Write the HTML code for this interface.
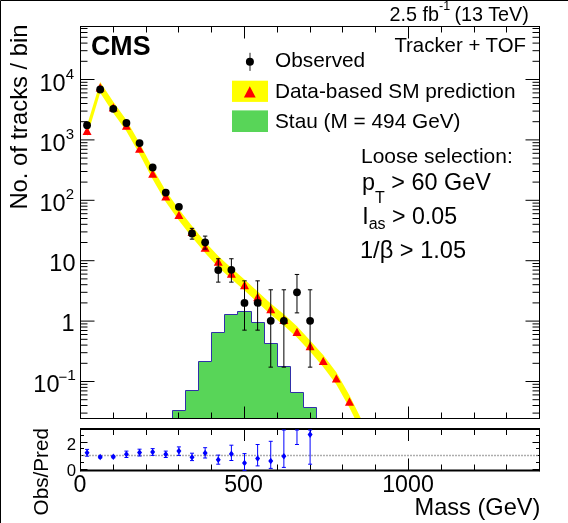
<!DOCTYPE html>
<html><head><meta charset="utf-8"><style>
html,body{margin:0;padding:0;background:#fff;}
svg{display:block;will-change:transform;}
text{font-family:"Liberation Sans", sans-serif;fill:#000;}
</style></head><body>
<svg width="568" height="523" viewBox="0 0 568 523">
<rect x="0" y="0" width="568" height="523" fill="#fff"/>
<path d="M0.5 523 V0.5 H568" fill="none" stroke="#000" stroke-width="1"/>
<path d="M172.5 418.5 L172.5 410.5 L185.5 410.5 L185.5 390.5 L198.5 390.5 L198.5 361.5 L211.5 361.5 L211.5 332.5 L224.5 332.5 L224.5 314.5 L237.5 314.5 L237.5 311.5 L251.5 311.5 L251.5 322.5 L264.5 322.5 L264.5 343.5 L277.5 343.5 L277.5 366.5 L290.5 366.5 L290.5 392.5 L303.5 392.5 L303.5 407.5 L316.5 407.5 L316.5 418.5 Z" fill="#58d558" stroke="#3030a8" stroke-width="1"/>
<clipPath id="mainclip"><rect x="80" y="26" width="460" height="392"/></clipPath>
<g clip-path="url(#mainclip)">
<path d="M87.06 125.20 L100.18 82.10 L113.30 101.80 L126.42 120.00 L139.54 143.00 L152.66 168.00 L165.78 190.70 L178.90 209.30 L192.02 226.10 L205.14 241.90 L218.26 256.00 L231.38 267.90 L244.50 279.40 L257.62 291.40 L270.74 303.40 L283.86 314.20 L296.98 326.30 L310.10 340.40 L323.22 354.90 L336.34 372.20 L349.46 395.20 L362.58 421.70 L362.58 434.30 L349.46 407.80 L336.34 384.60 L323.22 366.90 L310.10 351.60 L296.98 337.50 L283.86 325.40 L270.74 314.60 L257.62 302.60 L244.50 290.60 L231.38 279.10 L218.26 267.20 L205.14 253.10 L192.02 237.30 L178.90 220.50 L165.78 201.90 L152.66 179.20 L139.54 154.20 L126.42 131.20 L113.30 113.00 L100.18 92.70 L87.06 136.40 Z" fill="#ffff00"/>
<path d="M82.56 135.00 L91.56 135.00 L87.06 126.60 Z M95.68 91.60 L104.68 91.60 L100.18 83.20 Z M108.80 111.60 L117.80 111.60 L113.30 103.20 Z M121.92 129.80 L130.92 129.80 L126.42 121.40 Z M135.04 152.80 L144.04 152.80 L139.54 144.40 Z M148.16 177.80 L157.16 177.80 L152.66 169.40 Z M161.28 200.50 L170.28 200.50 L165.78 192.10 Z M174.40 219.10 L183.40 219.10 L178.90 210.70 Z M187.52 235.90 L196.52 235.90 L192.02 227.50 Z M200.64 251.70 L209.64 251.70 L205.14 243.30 Z M213.76 265.80 L222.76 265.80 L218.26 257.40 Z M226.88 277.70 L235.88 277.70 L231.38 269.30 Z M240.00 289.20 L249.00 289.20 L244.50 280.80 Z M253.12 301.20 L262.12 301.20 L257.62 292.80 Z M266.24 313.20 L275.24 313.20 L270.74 304.80 Z M279.36 324.00 L288.36 324.00 L283.86 315.60 Z M292.48 336.10 L301.48 336.10 L296.98 327.70 Z M305.60 350.20 L314.60 350.20 L310.10 341.80 Z M318.72 365.10 L327.72 365.10 L323.22 356.70 Z M331.84 382.60 L340.84 382.60 L336.34 374.20 Z M344.96 405.70 L353.96 405.70 L349.46 397.30 Z M358.08 432.20 L367.08 432.20 L362.58 423.80 Z" fill="#ff0000"/>
<path d="M192.02 228.33 V239.15 M189.82 228.33 h4.4 M189.82 239.15 h4.4 M205.14 236.10 V249.09 M202.94 236.10 h4.4 M202.94 249.09 h4.4 M218.26 258.75 V282.13 M216.06 258.75 h4.4 M216.06 282.13 h4.4 M231.38 258.75 V282.13 M229.18 258.75 h4.4 M229.18 282.13 h4.4 M244.50 280.85 V330.15 M242.30 280.85 h4.4 M242.30 330.15 h4.4 M257.62 280.85 V330.15 M255.42 280.85 h4.4 M255.42 330.15 h4.4 M270.74 289.79 V367.15 M268.54 289.79 h4.4 M268.54 367.15 h4.4 M283.86 289.79 V367.15 M281.66 289.79 h4.4 M281.66 367.15 h4.4 M296.98 274.46 V312.89 M294.78 274.46 h4.4 M294.78 312.89 h4.4 M310.10 289.79 V367.15 M307.90 289.79 h4.4 M307.90 367.15 h4.4" stroke="#000" stroke-width="1" fill="none"/>
<circle cx="87.06" cy="125.20" r="3.9" fill="#000"/>
<circle cx="100.18" cy="89.50" r="3.9" fill="#000"/>
<circle cx="113.30" cy="108.80" r="3.9" fill="#000"/>
<circle cx="126.42" cy="123.00" r="3.9" fill="#000"/>
<circle cx="139.54" cy="143.10" r="3.9" fill="#000"/>
<circle cx="152.66" cy="167.50" r="3.9" fill="#000"/>
<circle cx="165.78" cy="192.60" r="3.9" fill="#000"/>
<circle cx="178.90" cy="206.80" r="3.9" fill="#000"/>
<circle cx="192.02" cy="233.40" r="3.9" fill="#000"/>
<circle cx="205.14" cy="242.30" r="3.9" fill="#000"/>
<circle cx="218.26" cy="270.10" r="3.9" fill="#000"/>
<circle cx="231.38" cy="269.80" r="3.9" fill="#000"/>
<circle cx="244.50" cy="302.90" r="3.9" fill="#000"/>
<circle cx="257.62" cy="302.90" r="3.9" fill="#000"/>
<circle cx="270.74" cy="320.80" r="3.9" fill="#000"/>
<circle cx="283.86" cy="320.80" r="3.9" fill="#000"/>
<circle cx="296.98" cy="292.30" r="3.9" fill="#000"/>
<circle cx="310.10" cy="320.80" r="3.9" fill="#000"/>
</g>
<path d="M80.5 418.5 v-12 M80.5 26.5 v12 M113.5 418.5 v-6 M113.5 26.5 v6 M146.5 418.5 v-6 M146.5 26.5 v6 M178.5 418.5 v-6 M178.5 26.5 v6 M211.5 418.5 v-6 M211.5 26.5 v6 M244.5 418.5 v-12 M244.5 26.5 v12 M277.5 418.5 v-6 M277.5 26.5 v6 M310.5 418.5 v-6 M310.5 26.5 v6 M342.5 418.5 v-6 M342.5 26.5 v6 M375.5 418.5 v-6 M375.5 26.5 v6 M408.5 418.5 v-12 M408.5 26.5 v12 M441.5 418.5 v-6 M441.5 26.5 v6 M474.5 418.5 v-6 M474.5 26.5 v6 M506.5 418.5 v-6 M506.5 26.5 v6 M539.5 418.5 v-6 M539.5 26.5 v6 M80.5 413.1 h7 M539.5 413.1 h-7 M80.5 405.5 h7 M539.5 405.5 h-7 M80.5 399.7 h7 M539.5 399.7 h-7 M80.5 394.9 h7 M539.5 394.9 h-7 M80.5 390.9 h7 M539.5 390.9 h-7 M80.5 387.4 h7 M539.5 387.4 h-7 M80.5 384.3 h7 M539.5 384.3 h-7 M80.5 381.5 h14 M539.5 381.5 h-14 M80.5 363.3 h7 M539.5 363.3 h-7 M80.5 352.7 h7 M539.5 352.7 h-7 M80.5 345.1 h7 M539.5 345.1 h-7 M80.5 339.3 h7 M539.5 339.3 h-7 M80.5 334.5 h7 M539.5 334.5 h-7 M80.5 330.5 h7 M539.5 330.5 h-7 M80.5 327.0 h7 M539.5 327.0 h-7 M80.5 323.9 h7 M539.5 323.9 h-7 M80.5 321.1 h14 M539.5 321.1 h-14 M80.5 302.9 h7 M539.5 302.9 h-7 M80.5 292.3 h7 M539.5 292.3 h-7 M80.5 284.7 h7 M539.5 284.7 h-7 M80.5 278.9 h7 M539.5 278.9 h-7 M80.5 274.1 h7 M539.5 274.1 h-7 M80.5 270.1 h7 M539.5 270.1 h-7 M80.5 266.6 h7 M539.5 266.6 h-7 M80.5 263.5 h7 M539.5 263.5 h-7 M80.5 260.7 h14 M539.5 260.7 h-14 M80.5 242.5 h7 M539.5 242.5 h-7 M80.5 231.9 h7 M539.5 231.9 h-7 M80.5 224.3 h7 M539.5 224.3 h-7 M80.5 218.5 h7 M539.5 218.5 h-7 M80.5 213.7 h7 M539.5 213.7 h-7 M80.5 209.7 h7 M539.5 209.7 h-7 M80.5 206.2 h7 M539.5 206.2 h-7 M80.5 203.1 h7 M539.5 203.1 h-7 M80.5 200.3 h14 M539.5 200.3 h-14 M80.5 182.1 h7 M539.5 182.1 h-7 M80.5 171.5 h7 M539.5 171.5 h-7 M80.5 163.9 h7 M539.5 163.9 h-7 M80.5 158.1 h7 M539.5 158.1 h-7 M80.5 153.3 h7 M539.5 153.3 h-7 M80.5 149.3 h7 M539.5 149.3 h-7 M80.5 145.8 h7 M539.5 145.8 h-7 M80.5 142.7 h7 M539.5 142.7 h-7 M80.5 139.9 h14 M539.5 139.9 h-14 M80.5 121.7 h7 M539.5 121.7 h-7 M80.5 111.1 h7 M539.5 111.1 h-7 M80.5 103.5 h7 M539.5 103.5 h-7 M80.5 97.7 h7 M539.5 97.7 h-7 M80.5 92.9 h7 M539.5 92.9 h-7 M80.5 88.9 h7 M539.5 88.9 h-7 M80.5 85.4 h7 M539.5 85.4 h-7 M80.5 82.3 h7 M539.5 82.3 h-7 M80.5 79.5 h14 M539.5 79.5 h-14 M80.5 61.3 h7 M539.5 61.3 h-7 M80.5 50.7 h7 M539.5 50.7 h-7 M80.5 43.1 h7 M539.5 43.1 h-7 M80.5 37.3 h7 M539.5 37.3 h-7 M80.5 32.5 h7 M539.5 32.5 h-7 M80.5 28.5 h7 M539.5 28.5 h-7" stroke="#000" stroke-width="1" fill="none"/>
<rect x="80.5" y="26.5" width="459.0" height="392.0" fill="none" stroke="#000" stroke-width="1"/>
<path d="M250 52.8 V70.9" stroke="#222" stroke-width="1"/>
<circle cx="249.9" cy="61.7" r="4" fill="#000"/>
<rect x="232" y="80.7" width="36" height="21.2" fill="#ffff00"/>
<path d="M243.9 97.6 L255.7 97.6 L249.8 86.2 Z" fill="#ff0000"/>
<rect x="232" y="110.4" width="36" height="21.6" fill="#58d558"/>
<text x="275" y="67.2" font-size="20.8" text-anchor="start" font-weight="normal" >Observed</text>
<text x="275" y="97.6" font-size="20.8" text-anchor="start" font-weight="normal" >Data-based SM prediction</text>
<text x="275" y="127.5" font-size="20.8" text-anchor="start" font-weight="normal" >Stau (M = 494 GeV)</text>
<text x="91" y="55.2" font-size="26.8" text-anchor="start" font-weight="bold" >CMS</text>
<text x="389.5" y="20.5" font-size="19.8">2.5 fb<tspan dy="-10.5" font-size="12.5">-1</tspan><tspan dy="10.5" dx="-1.2"> (13 TeV)</tspan></text>
<text x="526" y="51.7" font-size="20.4" text-anchor="end" font-weight="normal" >Tracker + TOF</text>
<text x="361" y="163" font-size="21.0" text-anchor="start" font-weight="normal" >Loose selection:</text>
<text x="362" y="190" font-size="23.4">p<tspan dy="13" font-size="16">T</tspan><tspan dy="-13"> &gt; 60 GeV</tspan></text>
<text x="362.2" y="223.8" font-size="23.2">I<tspan dy="5.5" font-size="16">as</tspan><tspan dy="-5.5"> &gt; 0.05</tspan></text>
<text x="360" y="258.2" font-size="23.6" text-anchor="start" font-weight="normal" >1/&#946; &gt; 1.05</text>
<text x="74" y="91" font-size="23.5" text-anchor="end">10<tspan dy="-12" font-size="15">4</tspan></text>
<text x="74" y="150.5" font-size="23.5" text-anchor="end">10<tspan dy="-12" font-size="15">3</tspan></text>
<text x="74" y="210.5" font-size="23.5" text-anchor="end">10<tspan dy="-12" font-size="15">2</tspan></text>
<text x="75.5" y="270.8" font-size="23.5" text-anchor="end" font-weight="normal" >10</text>
<text x="74.5" y="330.5" font-size="23.5" text-anchor="end" font-weight="normal" >1</text>
<text x="59.5" y="391.7" font-size="23.5" text-anchor="end" font-weight="normal" >10</text>
<text x="58.6" y="382.3" font-size="15">&#8722;</text>
<text x="67.2" y="379.9" font-size="15.5">1</text>
<text transform="translate(26.6 209.6) rotate(-90)" font-size="23.8">No. of tracks / bin</text>
<path d="M80.5 470.5 v-12 M80.5 429 v12 M113.5 470.5 v-6 M113.5 429 v6 M146.5 470.5 v-6 M146.5 429 v6 M178.5 470.5 v-6 M178.5 429 v6 M211.5 470.5 v-6 M211.5 429 v6 M244.5 470.5 v-12 M244.5 429 v12 M277.5 470.5 v-6 M277.5 429 v6 M310.5 470.5 v-6 M310.5 429 v6 M342.5 470.5 v-6 M342.5 429 v6 M375.5 470.5 v-6 M375.5 429 v6 M408.5 470.5 v-12 M408.5 429 v12 M441.5 470.5 v-6 M441.5 429 v6 M474.5 470.5 v-6 M474.5 429 v6 M506.5 470.5 v-6 M506.5 429 v6 M539.5 470.5 v-6 M539.5 429 v6 M80.5 469.5 h7 M539.5 469.5 h-7 M80.5 462.5 h3.5 M539.5 462.5 h-3.5 M80.5 455.5 h3.5 M539.5 455.5 h-3.5 M80.5 448.5 h3.5 M539.5 448.5 h-3.5 M80.5 442.5 h7 M539.5 442.5 h-7 M80.5 435.5 h3.5 M539.5 435.5 h-3.5 M80.5 428.5 h3.5 M539.5 428.5 h-3.5" stroke="#000" stroke-width="1" fill="none"/>
<path d="M80.2 455.6 H539.5" stroke="#999" stroke-width="1.5" stroke-dasharray="1.6 1.4"/>
<path d="M80.5 429 H539.5 M80.5 470.5 H539.5" stroke="#000" stroke-width="2"/>
<path d="M80.5 428 V471.5 M539.5 428 V471.5" stroke="#000" stroke-width="1"/>
<clipPath id="rclip"><rect x="80" y="428" width="460" height="44"/></clipPath>
<g clip-path="url(#rclip)">
<path d="M87.06 449.40 V456.20 M85.06 449.40 h4 M85.06 456.20 h4 M100.18 456.00 V458.00 M98.18 456.00 h4 M98.18 458.00 h4 M113.30 455.80 V457.80 M111.30 455.80 h4 M111.30 457.80 h4 M126.42 451.10 V457.50 M124.42 451.10 h4 M124.42 457.50 h4 M139.54 449.20 V456.00 M137.54 449.20 h4 M137.54 456.00 h4 M152.66 448.60 V455.40 M150.66 448.60 h4 M150.66 455.40 h4 M165.78 451.10 V457.50 M163.78 451.10 h4 M163.78 457.50 h4 M178.90 446.90 V455.40 M176.90 446.90 h4 M176.90 455.40 h4 M192.02 453.20 V460.60 M190.02 453.20 h4 M190.02 460.60 h4 M205.14 447.70 V458.00 M203.14 447.70 h4 M203.14 458.00 h4 M218.26 455.10 V464.20 M216.26 455.10 h4 M216.26 464.20 h4 M231.38 445.20 V460.50 M229.38 445.20 h4 M229.38 460.50 h4 M244.50 453.60 V470.40 M242.50 453.60 h4 M242.50 470.40 h4 M257.62 444.50 V465.90 M255.62 444.50 h4 M255.62 465.90 h4 M270.74 441.30 V468.40 M268.74 441.30 h4 M268.74 468.40 h4 M283.86 430.00 V467.40 M281.86 430.00 h4 M281.86 467.40 h4 M296.98 430.00 V444.50 M294.98 430.00 h4 M294.98 444.50 h4 M310.10 430.00 V464.20 M308.10 430.00 h4 M308.10 464.20 h4" stroke="#0000ff" stroke-width="1" fill="none"/>
<path d="M87.06 449.40 L89.56 452.70 L87.06 456.00 L84.56 452.70 Z M100.18 453.70 L102.68 457.00 L100.18 460.30 L97.68 457.00 Z M113.30 453.50 L115.80 456.80 L113.30 460.10 L110.80 456.80 Z M126.42 451.00 L128.92 454.30 L126.42 457.60 L123.92 454.30 Z M139.54 449.30 L142.04 452.60 L139.54 455.90 L137.04 452.60 Z M152.66 448.70 L155.16 452.00 L152.66 455.30 L150.16 452.00 Z M165.78 451.00 L168.28 454.30 L165.78 457.60 L163.28 454.30 Z M178.90 447.80 L181.40 451.10 L178.90 454.40 L176.40 451.10 Z M192.02 453.90 L194.52 457.20 L192.02 460.50 L189.52 457.20 Z M205.14 449.80 L207.64 453.10 L205.14 456.40 L202.64 453.10 Z M218.26 456.50 L220.76 459.80 L218.26 463.10 L215.76 459.80 Z M231.38 450.60 L233.88 453.90 L231.38 457.20 L228.88 453.90 Z M244.50 459.70 L247.00 463.00 L244.50 466.30 L242.00 463.00 Z M257.62 455.20 L260.12 458.50 L257.62 461.80 L255.12 458.50 Z M270.74 457.70 L273.24 461.00 L270.74 464.30 L268.24 461.00 Z M283.86 453.00 L286.36 456.30 L283.86 459.60 L281.36 456.30 Z M296.98 396.70 L299.48 400.00 L296.98 403.30 L294.48 400.00 Z M310.10 431.30 L312.60 434.60 L310.10 437.90 L307.60 434.60 Z" fill="#0000ff"/>
</g>
<text x="76" y="449.7" font-size="16.8" text-anchor="end" font-weight="normal" >2</text>
<text x="76" y="475.5" font-size="16.8" text-anchor="end" font-weight="normal" >0</text>
<text transform="translate(48.3 515.4) rotate(-90)" font-size="20.7">Obs/Pred</text>
<text x="80" y="492.2" font-size="23.2" text-anchor="middle" font-weight="normal" >0</text>
<text x="243.5" y="492.2" font-size="23.2" text-anchor="middle" font-weight="normal" >500</text>
<text x="408" y="492.2" font-size="23.2" text-anchor="middle" font-weight="normal" >1000</text>
<text x="540.4" y="514.8" font-size="23.6" text-anchor="end" font-weight="normal" >Mass (GeV)</text>
</svg>
</body></html>
